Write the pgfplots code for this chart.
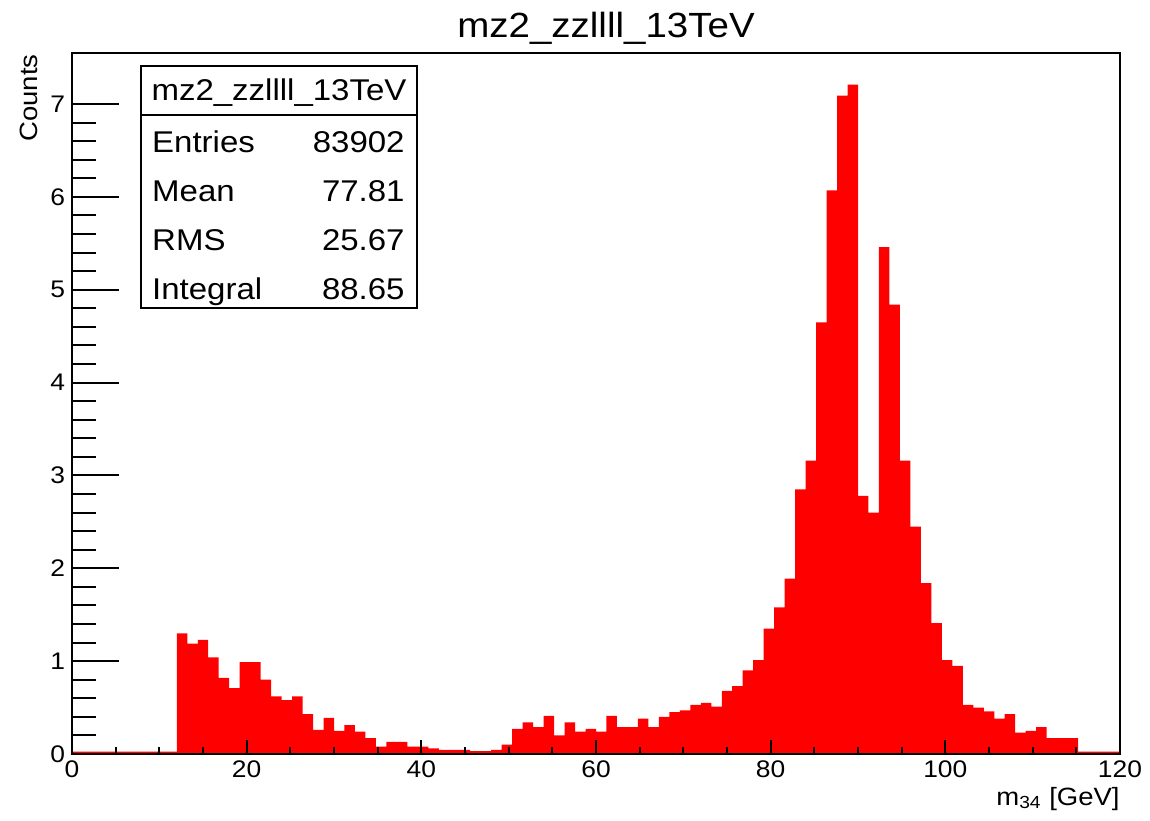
\documentclass[border=0pt]{standalone}
\usepackage{pgfplots}
\pgfplotsset{compat=1.18}
\usepackage{fontspec}
\setmainfont{Liberation Sans}[FakeStretch=1.1]

% m34 histogram: 100 bins of 1.2 GeV, lower bin edge and bin content
\pgfplotstableread{
x y
0.0 0.025
1.2 0.025
2.4 0.025
3.6 0.025
4.8 0.025
6.0 0.025
7.2 0.025
8.4 0.025
9.6 0.025
10.8 0.025
12.0 1.30
13.2 1.19
14.4 1.23
15.6 1.04
16.8 0.82
18.0 0.71
19.2 0.99
20.4 0.99
21.6 0.80
22.8 0.62
24.0 0.58
25.2 0.62
26.4 0.43
27.6 0.26
28.8 0.39
30.0 0.25
31.2 0.31
32.4 0.24
33.6 0.17
34.8 0.08
36.0 0.13
37.2 0.13
38.4 0.08
39.6 0.08
40.8 0.06
42.0 0.045
43.2 0.045
44.4 0.045
45.6 0.03
46.8 0.03
48.0 0.045
49.2 0.10
50.4 0.27
51.6 0.34
52.8 0.29
54.0 0.41
55.2 0.20
56.4 0.34
57.6 0.24
58.8 0.27
60.0 0.24
61.2 0.41
62.4 0.29
63.6 0.29
64.8 0.38
66.0 0.29
67.2 0.40
68.4 0.45
69.6 0.47
70.8 0.53
72.0 0.55
73.2 0.51
74.4 0.68
75.6 0.73
76.8 0.90
78.0 1.01
79.2 1.35
80.4 1.58
81.6 1.89
82.8 2.85
84.0 3.16
85.2 4.65
86.4 6.07
87.6 7.09
88.8 7.21
90.0 2.78
91.2 2.60
92.4 5.46
93.6 4.84
94.8 3.16
96.0 2.45
97.2 1.84
98.4 1.41
99.6 1.01
100.8 0.95
102.0 0.53
103.2 0.50
104.4 0.46
105.6 0.38
106.8 0.43
108.0 0.23
109.2 0.25
110.4 0.29
111.6 0.17
112.8 0.17
114.0 0.17
115.2 0.025
116.4 0.025
117.6 0.025
118.8 0.025
120.0 0.025
}\histdata

\pgfplotsset{
  rootframe/.style={
    scale only axis, width=524pt, height=350.5pt,
    at={(0,0)}, anchor=south west,
    xmin=0, xmax=120, ymin=0, ymax=7.55,
    tick align=inside,
    tick style={line width=1pt, black},
    /pgf/number format/assume math mode=true,
    tick label style={font=\fontsize{12}{14}\selectfont},
  },
}

\begin{document}
\begin{tikzpicture}
% y axis ticks (long, ROOT style)
\begin{axis}[rootframe,
    axis line style={draw=none},
    xtick=\empty,
    ytick={0,1,...,7}, minor y tick num=4,
    ytick pos=left,
    major tick length=23.5pt, minor tick length=12pt,
  ]
\end{axis}
% histogram, frame and x ticks
\begin{axis}[rootframe,
    axis on top,
    axis line style={line width=1.3pt},
    ytick=\empty,
    xtick={0,20,...,120}, minor x tick num=3,
    xtick pos=left,
    major tick length=7pt, minor tick length=3.5pt,
  ]
  \addplot[const plot, fill=red, draw=none] table[x=x, y=y] {\histdata} \closedcycle;
\end{axis}

% titles and axis labels
\node[anchor=base, font=\fontsize{17.5}{20}\selectfont] at (267pt,358pt) {mz2\_zzllll\_13TeV};
\node[anchor=base east, rotate=90, font=\fontsize{12.5}{14}\selectfont, inner sep=0pt] at (-17.5pt,350pt) {Counts};
\node[anchor=base east, font=\fontsize{12.5}{14}\selectfont, inner sep=0pt] at (524pt,-25.5pt) {m\textsubscript{34} [GeV]};

% statistics box
\draw[line width=1pt, fill=white] (34.5pt,223pt) rectangle (172.5pt,344pt);
\draw[line width=1pt] (34.5pt,319.5pt) -- (172.5pt,319.5pt);
\begin{scope}[every node/.style={font=\fontsize{15}{17}\selectfont, inner sep=0pt}]
  \node[anchor=base] at (103.5pt,326.5pt) {mz2\_zzllll\_13TeV};
  \node[anchor=base west] at (39.9pt,300.5pt) {Entries};
  \node[anchor=base east] at (166.5pt,300.5pt) {83902};
  \node[anchor=base west] at (39.9pt,276pt) {Mean};
  \node[anchor=base east] at (166.5pt,276pt) {77.81};
  \node[anchor=base west] at (39.9pt,251.5pt) {RMS};
  \node[anchor=base east] at (166.5pt,251.5pt) {25.67};
  \node[anchor=base west] at (39.9pt,227pt) {Integral};
  \node[anchor=base east] at (166.5pt,227pt) {88.65};
\end{scope}

% page extent
\pgfresetboundingbox
\path[use as bounding box] (-36pt,-33pt) rectangle (539pt,377pt);
\end{tikzpicture}
\end{document}
